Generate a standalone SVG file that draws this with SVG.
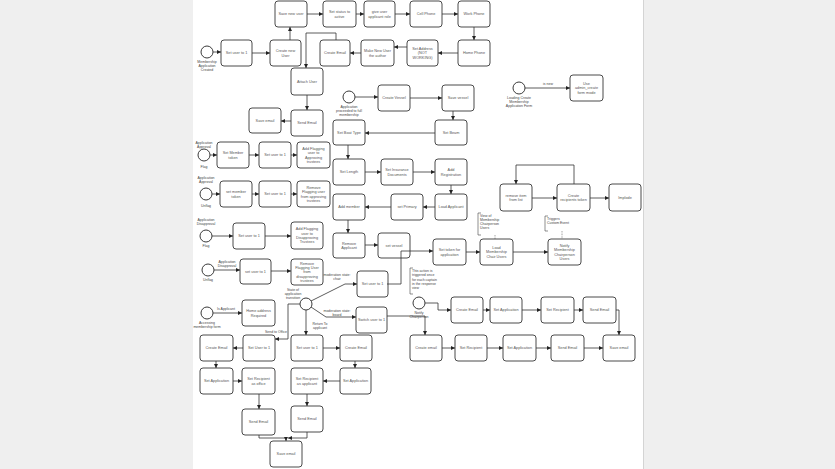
<svg xmlns="http://www.w3.org/2000/svg" width="835" height="469" viewBox="0 0 835 469">
<style>
.n rect{fill:#fff;stroke:#4a4a4a;stroke-width:1}
.n text,.lb{font-family:"Liberation Sans",Arial,sans-serif;font-size:3.8px;fill:#555;text-anchor:middle}
.lb{font-size:3.5px;fill:#444}
.la{text-anchor:start}
.ev circle{fill:#fff;stroke:#3a3a3a;stroke-width:1}
.c path{fill:none;stroke:#333;stroke-width:0.8;marker-end:url(#ah)}
.an path{fill:none;stroke:#444;stroke-width:0.6}
.an .dt{stroke-dasharray:0.8 0.8}
</style>
<defs>
<marker id="ah" markerUnits="userSpaceOnUse" markerWidth="4" markerHeight="4" refX="4" refY="2" orient="auto"><path d="M0,0 L4,2 L0,4 z" fill="#222"/></marker>
</defs>
<rect width="835" height="469" fill="#efefef"/>
<rect x="193" y="0" width="450" height="469" fill="#fff"/>
<line x1="643.5" y1="0" x2="643.5" y2="469" stroke="#d4d4d4" stroke-width="1"/>

<!-- events -->
<g class="ev" id="ev-created"><circle cx="207" cy="52" r="6"/><text class="lb" x="207" y="63">Membership<tspan x="207" dy="4">Application</tspan><tspan x="207" dy="4">Created</tspan></text></g>
<g class="ev" id="ev-full"><circle cx="349" cy="97" r="6"/><text class="lb" x="349" y="108">Application<tspan x="349" dy="4">proceeded to full</tspan><tspan x="349" dy="4">membership</tspan></text></g>
<g class="ev" id="ev-loading"><circle cx="519" cy="88" r="6"/><text class="lb" x="519" y="98.5">Loading Create<tspan x="519" dy="4">Membership</tspan><tspan x="519" dy="4">Application Form</tspan></text></g>
<g class="ev" id="ev-flag1"><circle cx="204" cy="155" r="6"/><text class="lb" x="204" y="144">Application<tspan x="204" dy="4">Approval</tspan></text><text class="lb" x="204" y="167.5">Flag</text></g>
<g class="ev" id="ev-unflag1"><circle cx="206" cy="194" r="6"/><text class="lb" x="206" y="179">Application<tspan x="206" dy="4">Approval</tspan></text><text class="lb" x="206" y="206.5">Unflag</text></g>
<g class="ev" id="ev-flag2"><circle cx="206" cy="236" r="6"/><text class="lb" x="206" y="221">Application<tspan x="206" dy="4">Disapproval</tspan></text><text class="lb" x="206" y="247">Flag</text></g>
<g class="ev" id="ev-unflag2"><circle cx="208" cy="270" r="6"/><text class="lb" x="227" y="263">Application<tspan x="227" dy="4">Disapproval</tspan></text><text class="lb" x="208" y="281">Unflag</text></g>
<g class="ev" id="ev-access"><circle cx="207" cy="313" r="6"/><text class="lb" x="207" y="324">Accessing<tspan x="207" dy="4">membership form</tspan></text></g>
<g class="ev" id="gw-state"><circle cx="306" cy="304" r="6"/><text class="lb" x="293" y="291">State of<tspan x="293" dy="4">application</tspan><tspan x="293" dy="4">transition</tspan></text></g>
<g class="ev" id="ev-notify"><circle cx="419" cy="303" r="6"/><text class="lb" x="419" y="314">Notify<tspan x="419" dy="4">Chairperson</tspan></text></g>

<!-- nodes -->
<g class="n" id="n1"><rect x="221" y="40" width="31" height="26" rx="3"/><text x="236.5" y="54.4">Set user to 1</text></g>
<g class="n" id="n2"><rect x="270" y="40" width="31" height="26" rx="3"/><text x="285.5" y="52.25">Create new<tspan x="285.5" dy="4.3">User</tspan></text></g>
<g class="n" id="n3"><rect x="275" y="1" width="32" height="26" rx="3"/><text x="291" y="15.4">Save new user</text></g>
<g class="n" id="n4"><rect x="323" y="1" width="33" height="26" rx="3"/><text x="339.5" y="13.25">Set status to<tspan x="339.5" dy="4.3">active</tspan></text></g>
<g class="n" id="n5"><rect x="364" y="1" width="31" height="26" rx="3"/><text x="379.5" y="13.25">give user<tspan x="379.5" dy="4.3">applicant role</tspan></text></g>
<g class="n" id="n6"><rect x="410" y="1" width="32" height="26" rx="3"/><text x="426" y="15.4">Cell Phone</text></g>
<g class="n" id="n7"><rect x="458" y="1" width="32" height="26" rx="3"/><text x="474" y="15.4">Work Phone</text></g>
<g class="n" id="n8"><rect x="458" y="40" width="32" height="26" rx="3"/><text x="474" y="54.4">Home Phone</text></g>
<g class="n" id="n9"><rect x="407" y="40" width="31" height="26" rx="3"/><text x="422.5" y="50.1">Set Address<tspan x="422.5" dy="4.3">(NOT</tspan><tspan x="422.5" dy="4.3">WORKING)</tspan></text></g>
<g class="n" id="n10"><rect x="361" y="40" width="33" height="26" rx="3"/><text x="377.5" y="52.25">Make New User<tspan x="377.5" dy="4.3">the author</tspan></text></g>
<g class="n" id="n11"><rect x="320" y="40" width="30" height="26" rx="3"/><text x="335" y="54.4">Create Email</text></g>
<g class="n" id="n12"><rect x="291" y="68" width="32" height="27" rx="3"/><text x="307" y="82.9">Attach User</text></g>
<g class="n" id="n13"><rect x="291" y="110" width="32" height="26" rx="3"/><text x="307" y="124.4">Send Email</text></g>
<g class="n" id="n14"><rect x="249" y="108" width="32" height="25" rx="3"/><text x="265" y="121.9">Save email</text></g>

<g class="n" id="n15"><rect x="378" y="85" width="32" height="26" rx="3"/><text x="394" y="99.4">Create Vessel</text></g>
<g class="n" id="n16"><rect x="442" y="85" width="32" height="26" rx="3"/><text x="458" y="99.4">Save vessel</text></g>
<g class="n" id="n17"><rect x="435" y="120" width="32" height="25" rx="3"/><text x="451" y="133.9">Set Beam</text></g>
<g class="n" id="n18"><rect x="333" y="120" width="32" height="25" rx="3"/><text x="349" y="133.9">Set Boat Type</text></g>
<g class="n" id="n19"><rect x="333" y="159" width="32" height="26" rx="3"/><text x="349" y="173.4">Set Length</text></g>
<g class="n" id="n20"><rect x="381" y="159" width="32" height="26" rx="3"/><text x="397" y="171.25">Set Insurance<tspan x="397" dy="4.3">Documents</tspan></text></g>
<g class="n" id="n21"><rect x="435" y="159" width="32" height="26" rx="3"/><text x="451" y="171.25">Add<tspan x="451" dy="4.3">Registration</tspan></text></g>
<g class="n" id="n22"><rect x="435" y="194" width="32" height="26" rx="3"/><text x="451" y="208.4">Load Applicant</text></g>
<g class="n" id="n23"><rect x="391" y="194" width="32" height="26" rx="3"/><text x="407" y="208.4">set Primary</text></g>
<g class="n" id="n24"><rect x="333" y="194" width="32" height="26" rx="3"/><text x="349" y="208.4">Add member</text></g>
<g class="n" id="n25"><rect x="333" y="233" width="32" height="25" rx="3"/><text x="349" y="244.75">Remove<tspan x="349" dy="4.3">Applicant</tspan></text></g>
<g class="n" id="n26"><rect x="378" y="233" width="32" height="25" rx="3"/><text x="394" y="246.9">set vessel</text></g>
<g class="n" id="n27"><rect x="433" y="239" width="33" height="26" rx="3"/><text x="449.5" y="251.25">Set token for<tspan x="449.5" dy="4.3">application</tspan></text></g>
<g class="n" id="n28"><rect x="480" y="239" width="33" height="26" rx="3"/><text x="496.5" y="249.1">Load<tspan x="496.5" dy="4.3">Membership</tspan><tspan x="496.5" dy="4.3">Chair Users</tspan></text></g>
<g class="n" id="n29"><rect x="548" y="239" width="33" height="26" rx="3"/><text x="564.5" y="246.95">Notify<tspan x="564.5" dy="4.3">Membership</tspan><tspan x="564.5" dy="4.3">Chairperson</tspan><tspan x="564.5" dy="4.3">Users</tspan></text></g>

<g class="n" id="n30"><rect x="217" y="142" width="32" height="26" rx="3"/><text x="233" y="154.25">Set Member<tspan x="233" dy="4.3">token</tspan></text></g>
<g class="n" id="n31"><rect x="259" y="142" width="32" height="26" rx="3"/><text x="275" y="156.4">Set user to 1</text></g>
<g class="n" id="n32"><rect x="297" y="142" width="33" height="26" rx="3"/><text x="313.5" y="149.95">Add Flagging<tspan x="313.5" dy="4.3">user to</tspan><tspan x="313.5" dy="4.3">Approving</tspan><tspan x="313.5" dy="4.3">trustees</tspan></text></g>
<g class="n" id="n33"><rect x="220" y="181" width="32" height="26" rx="3"/><text x="236" y="193.25">set member<tspan x="236" dy="4.3">token</tspan></text></g>
<g class="n" id="n34"><rect x="259" y="181" width="32" height="26" rx="3"/><text x="275" y="195.4">Set user to 1</text></g>
<g class="n" id="n35"><rect x="297" y="181" width="33" height="26" rx="3"/><text x="313.5" y="188.95">Remove<tspan x="313.5" dy="4.3">Flagging user</tspan><tspan x="313.5" dy="4.3">from approving</tspan><tspan x="313.5" dy="4.3">trustees</tspan></text></g>
<g class="n" id="n36"><rect x="233" y="223" width="32" height="26" rx="3"/><text x="249" y="237.4">Set user to 1</text></g>
<g class="n" id="n37"><rect x="291" y="222" width="32" height="27" rx="3"/><text x="307" y="230.45">Add Flagging<tspan x="307" dy="4.3">user to</tspan><tspan x="307" dy="4.3">Disapproving</tspan><tspan x="307" dy="4.3">Trustees</tspan></text></g>
<g class="n" id="n38"><rect x="240" y="259" width="31" height="25" rx="3"/><text x="255.5" y="272.9">set user to 1</text></g>
<g class="n" id="n39"><rect x="291" y="259" width="32" height="26" rx="3"/><text x="307" y="264.8">Remove<tspan x="307" dy="4.3">Flagging User</tspan><tspan x="307" dy="4.3">from</tspan><tspan x="307" dy="4.3">disapproving</tspan><tspan x="307" dy="4.3">trustees</tspan></text></g>
<g class="n" id="n40"><rect x="242" y="300" width="33" height="26" rx="3"/><text x="258.5" y="312.25">Home address<tspan x="258.5" dy="4.3">Required</tspan></text></g>
<g class="n" id="n41"><rect x="357" y="271" width="31" height="26" rx="3"/><text x="372.5" y="285.4">Set user to 1</text></g>
<g class="n" id="n42"><rect x="356" y="307" width="31" height="26" rx="3"/><text x="371.5" y="321.4">Switch user to 1</text></g>

<g class="n" id="n43"><rect x="243" y="335" width="32" height="26" rx="3"/><text x="259" y="349.4">Set User to 1</text></g>
<g class="n" id="n44"><rect x="200" y="335" width="33" height="26" rx="3"/><text x="216.5" y="349.4">Create Email</text></g>
<g class="n" id="n45"><rect x="200" y="368" width="33" height="26" rx="3"/><text x="216.5" y="382.4">Set Application</text></g>
<g class="n" id="n46"><rect x="242" y="368" width="33" height="26" rx="3"/><text x="258.5" y="380.25">Set Recipient<tspan x="258.5" dy="4.3">as office</tspan></text></g>
<g class="n" id="n47"><rect x="242" y="409" width="33" height="26" rx="3"/><text x="258.5" y="423.4">Send Email</text></g>
<g class="n" id="n48"><rect x="270" y="441" width="32" height="26" rx="3"/><text x="286" y="455.4">Save email</text></g>
<g class="n" id="n49"><rect x="291" y="335" width="32" height="26" rx="3"/><text x="307" y="349.4">Set user to 1</text></g>
<g class="n" id="n50"><rect x="340" y="335" width="32" height="26" rx="3"/><text x="356" y="349.4">Create Email</text></g>
<g class="n" id="n51"><rect x="340" y="368" width="31" height="26" rx="3"/><text x="355.5" y="382.4">Set Application</text></g>
<g class="n" id="n52"><rect x="291" y="368" width="32" height="26" rx="3"/><text x="307" y="380.25">Set Recipient<tspan x="307" dy="4.3">as applicant</tspan></text></g>
<g class="n" id="n53"><rect x="291" y="406" width="32" height="26" rx="3"/><text x="307" y="420.4">Send Email</text></g>

<g class="n" id="n54"><rect x="451" y="297" width="32" height="26" rx="3"/><text x="467" y="311.4">Create Email</text></g>
<g class="n" id="n55"><rect x="490" y="297" width="32" height="26" rx="3"/><text x="506" y="311.4">Set Application</text></g>
<g class="n" id="n56"><rect x="541" y="297" width="33" height="26" rx="3"/><text x="557.5" y="311.4">Set Recipient</text></g>
<g class="n" id="n57"><rect x="583" y="297" width="33" height="26" rx="3"/><text x="599.5" y="311.4">Send Email</text></g>
<g class="n" id="n58"><rect x="603" y="335" width="32" height="26" rx="3"/><text x="619" y="349.4">Save email</text></g>
<g class="n" id="n59"><rect x="410" y="335" width="32" height="26" rx="3"/><text x="426" y="349.4">Create email</text></g>
<g class="n" id="n60"><rect x="455" y="335" width="32" height="26" rx="3"/><text x="471" y="349.4">Set Recipient</text></g>
<g class="n" id="n61"><rect x="503" y="335" width="33" height="26" rx="3"/><text x="519.5" y="349.4">Set Application</text></g>
<g class="n" id="n62"><rect x="551" y="335" width="33" height="26" rx="3"/><text x="567.5" y="349.4">Send Email</text></g>

<g class="n" id="n63"><rect x="570" y="75" width="33" height="26" rx="3"/><text x="586.5" y="85.1">Use<tspan x="586.5" dy="4.3">admin_create</tspan><tspan x="586.5" dy="4.3">form mode</tspan></text></g>
<g class="n" id="n64"><rect x="500" y="184" width="32" height="27" rx="3"/><text x="516" y="196.75">remove item<tspan x="516" dy="4.3">from list</tspan></text></g>
<g class="n" id="n65"><rect x="557" y="184" width="33" height="27" rx="3"/><text x="573.5" y="196.75">Create<tspan x="573.5" dy="4.3">recipients token</tspan></text></g>
<g class="n" id="n66"><rect x="609" y="184" width="32" height="27" rx="3"/><text x="625" y="198.9">Implode</text></g>

<!-- annotations -->
<g class="an" id="ann1"><path d="M481,213 H478 V235 H481"/><path class="dt" d="M495,235 V239"/><text class="lb la" x="480" y="216.5">View of<tspan x="480" dy="4.3">Membership</tspan><tspan x="480" dy="4.3">Chairperson</tspan><tspan x="480" dy="4.3">Users</tspan></text></g>
<g class="an" id="ann2"><path d="M548,216 H545 V231 H548"/><path class="dt" d="M562,231 V239"/><text class="lb la" x="547" y="220">Triggers<tspan x="547" dy="4.3">Custom Event</tspan></text></g>
<g class="an" id="ann3"><path d="M413,268 H410 V294 H413"/><text class="lb la" x="412" y="272">This action is<tspan x="412" dy="4.3">triggered once</tspan><tspan x="412" dy="4.3">for each captain</tspan><tspan x="412" dy="4.3">in the response</tspan><tspan x="412" dy="4.3">view</tspan></text></g>

<!-- connectors -->
<g class="c" id="connectors">
<path d="M213,52 H221"/>
<path d="M252,53 H270"/>
<path d="M290,40 V27"/>
<path d="M307,14 H323"/>
<path d="M356,14 H364"/>
<path d="M395,14 H410"/>
<path d="M442,14 H458"/>
<path d="M474,27 V40"/>
<path d="M458,53 H438"/>
<path d="M407,47 H394"/>
<path d="M361,53 H350"/>
<path d="M336,40 V33 H306 V68"/>
<path d="M307,95 V110"/>
<path d="M291,121 H281"/>
<path d="M355,97 H378"/>
<path d="M410,98 H442"/>
<path d="M453,111 V120"/>
<path d="M435,133 H365"/>
<path d="M348,145 V159"/>
<path d="M365,172 H381"/>
<path d="M413,172 H435"/>
<path d="M451,185 V194"/>
<path d="M435,207 H423"/>
<path d="M391,207 H365"/>
<path d="M348,220 V233"/>
<path d="M365,245 H378"/>
<path d="M387,284 H401 V251 H433"/>
<path d="M466,252 H480"/>
<path d="M513,252 H548"/>
<path d="M525,88 H570"/>
<path d="M532,198 H557"/>
<path d="M590,198 H609"/>
<path d="M574,184 V165 H516 V184"/>
<path d="M210,155 H217"/>
<path d="M249,155 H259"/>
<path d="M291,155 H297"/>
<path d="M212,194 H220"/>
<path d="M252,194 H259"/>
<path d="M291,194 H297"/>
<path d="M212,236 H233"/>
<path d="M265,236 H291"/>
<path d="M214,270 H240"/>
<path d="M271,271 H291"/>
<path d="M213,313 H242"/>
<path d="M311,301 L345,284 H357"/>
<path d="M311,307 L326,317 H356"/>
<path d="M306,310 V335"/>
<path d="M300,304 H288 V339 H275"/>
<path d="M243,348 H233"/>
<path d="M216,361 V368"/>
<path d="M233,381 H242"/>
<path d="M259,394 V409"/>
<path d="M259,435 V438 H286 V441"/>
<path d="M323,348 H340"/>
<path d="M355,361 V368"/>
<path d="M340,381 H323"/>
<path d="M307,394 V406"/>
<path d="M307,432 V438 H288"/>
<path d="M425,303 H438 V310 H451"/>
<path d="M483,310 H490"/>
<path d="M522,310 H541"/>
<path d="M574,310 H583"/>
<path d="M616,310 H619 V335"/>
<path d="M387,316 H425 V335"/>
<path d="M442,348 H455"/>
<path d="M487,348 H503"/>
<path d="M536,348 H551"/>
<path d="M584,348 H603"/>
</g>
<g id="edge-labels">
<text class="lb" x="548" y="85">is new</text>
<text class="lb" x="226" y="309.5">Is Applicant</text>
<text class="lb" x="337" y="276">moderation state:<tspan x="337" dy="4">chair</tspan></text>
<text class="lb" x="337" y="311.5">moderation state:<tspan x="337" dy="4">board</tspan></text>
<text class="lb" x="320" y="324.5">Return To<tspan x="320" dy="4">applicant</tspan></text>
<text class="lb" x="276" y="333">Send to Office</text>
</g>
</svg>
